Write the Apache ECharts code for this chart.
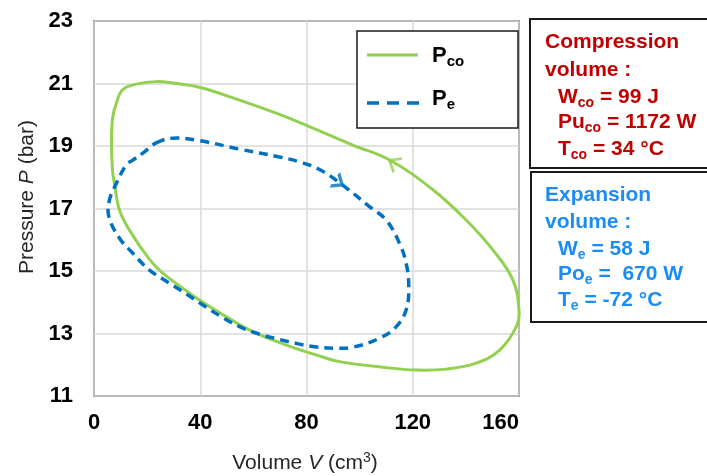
<!DOCTYPE html>
<html>
<head>
<meta charset="utf-8">
<script src="https://cdn.jsdelivr.net/npm/echarts@6/dist/echarts.min.js"></script>
<style>html,body{margin:0;padding:0;background:#fff}#c{width:707px;height:476px}</style>
</head>
<body>
<div id="c"></div>
<script>
// Compression-volume pressure loop (P_co), counter-clockwise (closed loop)
const pcoV = [160, 157.7, 150.2, 140.1, 127.6, 111.3, 97.4, 81.1, 68.6, 54.8, 39.7, 31.0, 23.4, 15.9, 10.8, 8.4, 7.0, 6.6, 7.0, 7.7, 9.6, 13.4, 20.9, 25.9, 39.7, 49.8, 59.8, 72.4, 84.9, 92.4, 108.7, 121.3, 132.6, 143.9, 152.7, 159.0];
const pcoP = [13.75, 14.71, 15.67, 16.63, 17.6, 18.55, 19.03, 19.62, 20.05, 20.47, 20.88, 21.0, 21.06, 20.98, 20.8, 20.37, 19.9, 19.0, 18.2, 17.8, 16.95, 16.3, 15.37, 14.93, 14.07, 13.54, 13.06, 12.63, 12.28, 12.1, 11.92, 11.83, 11.86, 12.05, 12.47, 13.22];
// Expansion-volume pressure loop (P_e), clockwise (closed loop)
const peV = [23.4, 29.7, 39.7, 54.8, 69.8, 77.4, 84.9, 93.6, 103.7, 110, 115, 117.5, 118.5, 117.5, 113.8, 107.5, 97.4, 90.5, 83.7, 77.4, 69.8, 62.3, 54.8, 47.3, 41.0, 34.7, 28.4, 20.9, 14.6, 9.6, 5.6, 5.8, 8.4, 12.1, 14.6, 18.4];
const peP = [19.1, 19.25, 19.17, 18.9, 18.65, 18.49, 18.25, 17.75, 17.06, 16.63, 15.89, 15.25, 14.5, 13.75, 13.22, 12.85, 12.56, 12.53, 12.57, 12.66, 12.81, 12.98, 13.22, 13.57, 13.91, 14.27, 14.61, 15.03, 15.57, 16.05, 16.74, 17.27, 17.8, 18.39, 18.55, 18.77];
// direction arrows
const arrowCo = [112.8, 18.46];
const arrowE = [92.0, 17.84];
// axis ticks
const xTicks = [0, 40, 80, 120, 160];
const yTicks = [11, 13, 15, 17, 19, 21, 23];

const FONT = 'Liberation Sans, Arial, sans-serif';
const GREEN = '#92d050', BLUE = '#0070c0', RED = '#c00000', LBLUE = '#1a8cf5', NAVY = '#0d2a6b';

const pco = pcoV.map((v, i) => [v, pcoP[i]]);
const pe = peV.map((v, i) => [v, peP[i]]);
const chevron = 'path://M10,0 L0,5 L10,10';

function loopSeries(name, data, lineStyle, z) {
  return {
    name: name, type: 'custom', coordinateSystem: 'cartesian2d', data: data, z: z,
    encode: { x: 0, y: 1 }, silent: true, clip: false,
    renderItem: function (params, api) {
      if (params.dataIndex !== 0) return null;
      const pts = data.map(function (p) { return api.coord(p); });
      return { type: 'polygon', shape: { points: pts, smooth: 0.4 },
        style: Object.assign({ fill: 'none' }, lineStyle) };
    }
  };
}

function sub(size, color) {
  return { fontSize: size, fontWeight: 'bold', fontFamily: FONT, color: color, verticalAlign: 'bottom', lineHeight: 26 };
}
function base(size, color) {
  return { fontSize: size, fontWeight: 'bold', fontFamily: FONT, color: color, lineHeight: 26 };
}
function boxLine(x, y, text, color) {
  return { type: 'text', left: x, top: y - 13, z: 20,
    style: { text: text, fill: color, font: 'bold 21px ' + FONT, rich: { b: base(21, color), s: sub(14, color) } } };
}

const chart = echarts.init(document.getElementById('c'), null, { renderer: 'canvas' });
chart.setOption({
  animation: false,
  grid: { left: 94, top: 21, width: 425, height: 375, show: true, borderColor: '#262626', borderWidth: 1.5, backgroundColor: 'transparent' },
  xAxis: {
    type: 'value', min: xTicks[0], max: xTicks[xTicks.length - 1], interval: 40,
    axisLine: { show: false }, axisTick: { show: false },
    splitLine: { lineStyle: { color: '#d9d9d9', width: 1.5 } },
    axisLabel: { margin: 16, fontSize: 22, fontWeight: 'bold', fontFamily: FONT, color: '#000', alignMaxLabel: 'right' }
  },
  yAxis: {
    type: 'value', min: yTicks[0], max: yTicks[yTicks.length - 1], interval: 2,
    axisLine: { show: false }, axisTick: { show: false },
    splitLine: { lineStyle: { color: '#d9d9d9', width: 1.5 } },
    axisLabel: { margin: 21, fontSize: 22, fontWeight: 'bold', fontFamily: FONT, color: '#000' }
  },
  series: [
    loopSeries('Pco', pco, { stroke: GREEN, lineWidth: 3 }, 3),
    loopSeries('Pe', pe, { stroke: BLUE, lineWidth: 3.5, lineDash: [9, 6], lineCap: 'butt' }, 4),
    { name: 'arrowCo', type: 'scatter', data: [arrowCo], symbol: chevron, symbolSize: [10, 16], symbolRotate: -31, z: 5,
      itemStyle: { color: 'rgba(0,0,0,0)', borderColor: GREEN, borderWidth: 2.5 } },
    { name: 'arrowE', type: 'scatter', data: [arrowE], symbol: chevron, symbolSize: [9, 15], symbolRotate: 146, z: 5,
      itemStyle: { color: 'rgba(0,0,0,0)', borderColor: BLUE, borderWidth: 3 } }
  ],
  graphic: [
    // axis titles
    { type: 'text', x: 27, y: 197, rotation: Math.PI / 2, z: 20,
      style: { text: 'Pressure {i|P} (bar)', font: '21px ' + FONT, fill: '#262626', align: 'center', verticalAlign: 'middle',
        rich: { i: { fontStyle: 'italic', fontSize: 21, fontFamily: FONT, color: '#262626' } } } },
    { type: 'text', x: 305, y: 463, z: 20,
      style: { text: 'Volume {i|V} (cm{sup|3})', font: '21px ' + FONT, fill: '#262626', align: 'center', verticalAlign: 'middle',
        rich: { i: { fontStyle: 'italic', fontSize: 21, fontFamily: FONT, color: '#262626', lineHeight: 24 },
                sup: { fontSize: 14, fontFamily: FONT, color: '#262626', verticalAlign: 'top', lineHeight: 24 } } } },
    // legend box
    { type: 'rect', shape: { x: 357, y: 31, width: 161, height: 97 }, z: 10,
      style: { fill: '#fff', stroke: '#1a1a1a', lineWidth: 1.5 } },
    { type: 'line', shape: { x1: 367, y1: 55, x2: 418, y2: 55 }, z: 11, style: { stroke: GREEN, lineWidth: 3 } },
    { type: 'line', shape: { x1: 367, y1: 103, x2: 420, y2: 103 }, z: 11, style: { stroke: BLUE, lineWidth: 3.5, lineDash: [12, 8] } },
    { type: 'text', left: 432, top: 45, z: 11,
      style: { text: '{b|P}{s|co}', rich: { b: base(22, NAVY), s: sub(15, NAVY) } } },
    { type: 'text', left: 432, top: 88, z: 11,
      style: { text: '{b|P}{s|e}', rich: { b: base(22, NAVY), s: sub(15, NAVY) } } },
    // compression box
    { type: 'rect', shape: { x: 530, y: 19, width: 200, height: 149 }, z: 10,
      style: { fill: '#fff', stroke: '#1a1a1a', lineWidth: 2 } },
    boxLine(545, 45, '{b|Compression}', RED),
    boxLine(545, 73, '{b|volume :}', RED),
    boxLine(558, 100, '{b|W}{s|co}{b| = 99 J}', RED),
    boxLine(558, 125, '{b|Pu}{s|co}{b| = 1172 W}', RED),
    boxLine(558, 152, '{b|T}{s|co}{b| = 34 °C}', RED),
    // expansion box
    { type: 'rect', shape: { x: 531, y: 172, width: 200, height: 150 }, z: 10,
      style: { fill: '#fff', stroke: '#1a1a1a', lineWidth: 2 } },
    boxLine(545, 198, '{b|Expansion}', LBLUE),
    boxLine(545, 225, '{b|volume :}', LBLUE),
    boxLine(558, 252, '{b|W}{s|e}{b| = 58 J}', LBLUE),
    boxLine(558, 277, '{b|Po}{s|e}{b| =  670 W}', LBLUE),
    boxLine(558, 303, '{b|T}{s|e}{b| = -72 °C}', LBLUE)
  ]
});
</script>
</body>
</html>
